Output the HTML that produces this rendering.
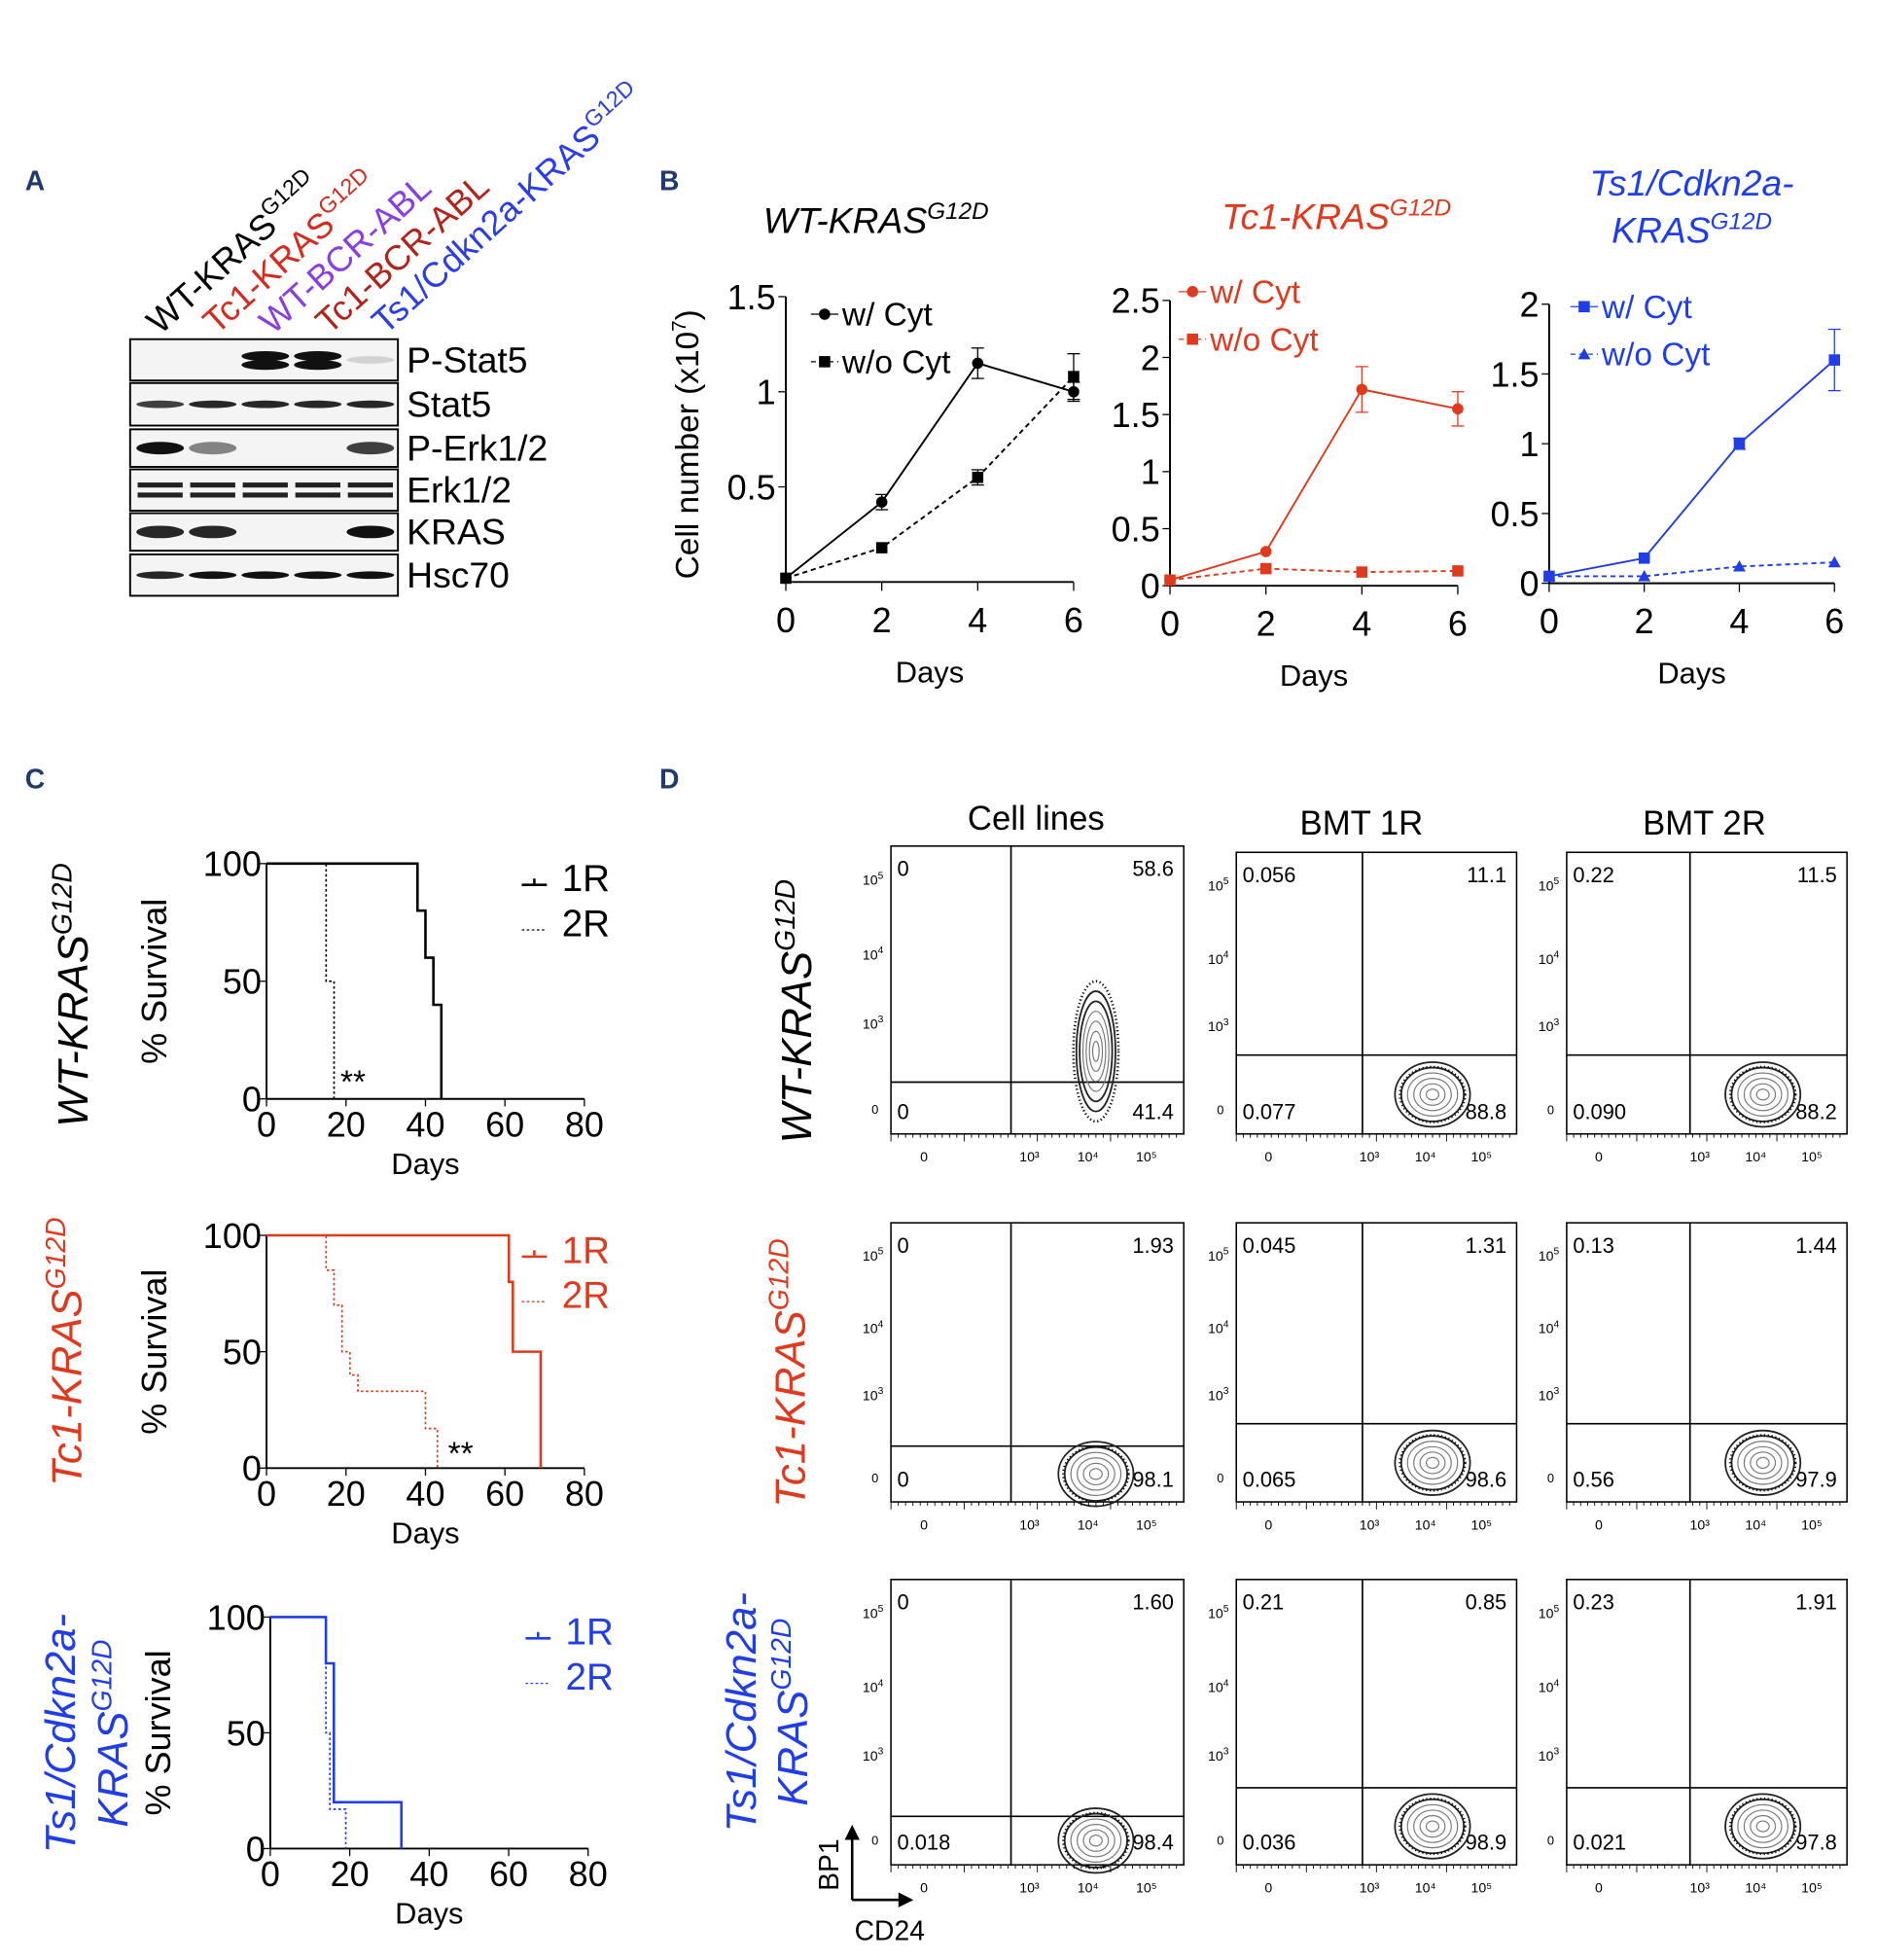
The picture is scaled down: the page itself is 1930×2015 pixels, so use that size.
<!DOCTYPE html>
<html><head><meta charset="utf-8">
<style>
html,body{margin:0;padding:0;background:#fff;}
svg{display:block;font-family:"Liberation Sans",sans-serif;}
</style></head>
<body>
<svg id="fig" width="1930" height="2015" viewBox="0 0 1500 1566" xmlns="http://www.w3.org/2000/svg">
<g id="root"></g>
</svg>
<script>
// ---------- DATA ----------
const bDays = [0,2,4,6];
const bWT_cyt = [0.02,0.42,1.15,1.0];
const bWT_nocyt = [0.02,0.18,0.55,1.08];
const bWT_err_cyt = [0,0.04,0.08,0.05];
const bWT_err_nocyt = [0,0,0.04,0.12];
const bTc1_cyt = [0.05,0.3,1.72,1.55];
const bTc1_nocyt = [0.05,0.15,0.12,0.13];
const bTc1_err_cyt = [0,0,0.2,0.15];
const bTs1_cyt = [0.05,0.18,1.0,1.6];
const bTs1_nocyt = [0.05,0.05,0.12,0.15];
const bTs1_err_cyt = [0,0,0.04,0.22];
const kmWT_1R = [[0,100],[38,100],[38,80],[40,80],[40,60],[42,60],[42,40],[44,40],[44,0]];
const kmWT_2R = [[0,100],[15,100],[15,50],[17,50],[17,0]];
const kmTc1_1R = [[0,100],[61,100],[61,80],[62,80],[62,50],[69,50],[69,0]];
const kmTc1_2R = [[0,100],[15,100],[15,85],[17,85],[17,70],[19,70],[19,50],[21,50],[21,40],[23,40],[23,33],[40,33],[40,17],[43,17],[43,0]];
const kmTs1_1R = [[0,100],[14,100],[14,80],[16,80],[16,20],[33,20],[33,0]];
const kmTs1_2R = [[0,100],[14,100],[14,50],[15,50],[15,17],[19,17],[19,0]];
const kmTicksX = [0,20,40,60,80];
const kmTicksY = [0,50,100];
const flowVals = [
 ["0","58.6","0","41.4"],["0.056","11.1","0.077","88.8"],["0.22","11.5","0.090","88.2"],
 ["0","1.93","0","98.1"],["0.045","1.31","0.065","98.6"],["0.13","1.44","0.56","97.9"],
 ["0","1.60","0.018","98.4"],["0.21","0.85","0.036","98.9"],["0.23","1.91","0.021","97.8"]];

const NS="http://www.w3.org/2000/svg";
const root=document.getElementById('root');
function el(tag,attrs,parent,text){const e=document.createElementNS(NS,tag);for(const k in attrs)e.setAttribute(k,attrs[k]);if(text!==undefined)e.textContent=text;(parent||root).appendChild(e);return e;}
function txt(x,y,s,size,fill,name,extra){const t=el('text',Object.assign({x:x,y:y,'font-size':size,fill:fill||'#000'},extra||{}),null,s);


return t;}

[['A',20,152],['B',527,152],['C',20,630],['D',527,630]].forEach(p=>{txt(p[1],p[2],p[0],22,'#1f3a6e','panel-label-'+p[0].toLowerCase(),{'font-weight':'bold'});});

// ---------- PANEL A ----------
const aLabels=[["WT-KRAS","G12D","#000"],["Tc1-KRAS","G12D","#d42b1e"],["WT-BCR-ABL","","#8a3ee0"],["Tc1-BCR-ABL","","#b2231a"],["Ts1/Cdkn2a-KRAS","G12D","#2a3ee8"]];
aLabels.forEach((l,i)=>{const x=128+i*45,y=268;
const t=el('text',{x:x,y:y,'font-size':28,fill:l[2],transform:`rotate(-42 ${x} ${y})`});


t.appendChild(document.createTextNode(l[0]));
if(l[1]){el('tspan',{'font-size':18,dy:-12},t,l[1]);}
});
const blotRows=[[271,304,"P-Stat5",[0,0,1,1,0.15]],[306,340,"Stat5",[0.8,0.9,0.9,0.9,0.9]],[343,373,"P-Erk1/2",[1,0.5,0,0,0.8]],[375,408,"Erk1/2",[1,1,1,1,1]],[410,440,"KRAS",[0.9,0.9,0,0,1]],[443,476,"Hsc70",[0.9,1,1,1,1]]];
blotRows.forEach((r,ri)=>{
const g=el('g',{});
el('rect',{x:104,y:r[0],width:214,height:r[1]-r[0],fill:'#f4f4f4',stroke:'#000','stroke-width':1.5},g);
const cy=(r[0]+r[1])/2;
r[3].forEach((v,i)=>{if(v>0){const cx=128+i*42;
if(r[2]==="Erk1/2"){el('rect',{x:cx-18,y:cy-6,width:36,height:4,fill:'#222',opacity:v},g);el('rect',{x:cx-18,y:cy+2,width:36,height:4,fill:'#222',opacity:v},g);}
else if(r[2]==="P-Stat5"&&v>0.5){el('ellipse',{cx:cx,cy:cy-3,rx:19,ry:4,fill:'#111'},g);el('ellipse',{cx:cx,cy:cy+4,rx:19,ry:4,fill:'#111'},g);}
else el('ellipse',{cx:cx,cy:cy,rx:19,ry:r[2]==="P-Erk1/2"||r[2]==="KRAS"?5:3,fill:'#111',opacity:v},g);}});
txt(325,cy+10,r[2],29,'#000','blot-label-'+ri);
});

// ---------- PANEL B ----------
function growth(x0,x1,y0,yPer,yMax,yTicks,title,color,cyt,nocyt,errC,errN,m2,name){
const sx=d=>x0+(d/6)*(x1-x0), sy=v=>y0-v*yPer;
const g=el('g',{});
el('line',{x1:x0,y1:y0,x2:x1,y2:y0,stroke:'#000','stroke-width':1.5},g);
el('line',{x1:x0,y1:y0,x2:x0,y2:sy(yMax),stroke:'#000','stroke-width':1.5},g);
bDays.forEach(d=>{el('line',{x1:sx(d),y1:y0,x2:sx(d),y2:y0+7,stroke:'#000'},g);el('text',{x:sx(d),y:y0+40,'font-size':28,'text-anchor':'middle'},g,d);});
yTicks.forEach(v=>{el('line',{x1:x0,y1:sy(v),x2:x0-6,y2:sy(v),stroke:'#000'},g);el('text',{x:x0-8,y:sy(v)+10,'font-size':28,'text-anchor':'end'},g,v);});
el('text',{x:(x0+x1)/2,y:y0+80,'font-size':24,'text-anchor':'middle'},g,'Days');
function series(vals,err,dash,marker,nm){
const pts=bDays.map((d,i)=>sx(d)+','+sy(vals[i])).join(' ');
const p=el('polyline',{points:pts,fill:'none',stroke:color,'stroke-width':1.5,'stroke-dasharray':dash},g);

bDays.forEach((d,i)=>{const x=sx(d),y=sy(vals[i]);
if(err[i]>0){el('line',{x1:x,y1:sy(vals[i]+err[i]),x2:x,y2:sy(vals[i]-err[i]),stroke:color},g);el('line',{x1:x-5,y1:sy(vals[i]+err[i]),x2:x+5,y2:sy(vals[i]+err[i]),stroke:color},g);el('line',{x1:x-5,y1:sy(vals[i]-err[i]),x2:x+5,y2:sy(vals[i]-err[i]),stroke:color},g);}
let m;if(marker==='c')m=el('circle',{cx:x,cy:y,r:4.5,fill:color},g);
else if(marker==='s')m=el('rect',{x:x-4.5,y:y-4.5,width:9,height:9,fill:color},g);
else m=el('polygon',{points:`${x},${y-5} ${x-5},${y+4} ${x+5},${y+4}`,fill:color},g);
});}
series(cyt,errC,'', color==='#1f3ee8'?'s':'c',name+'-wcyt');
series(nocyt,errN,'4,3',m2,name+'-wocyt');
return g;}
growth(628,858,465,152,1.5,[0.5,1,1.5],'','#000',bWT_cyt,bWT_nocyt,bWT_err_cyt,bWT_err_nocyt,'s','growth-wt');
growth(935,1165,468,91.2,2.5,[0,0.5,1,1.5,2,2.5],'','#e03a1e',bTc1_cyt,bTc1_nocyt,bTc1_err_cyt,[0,0,0,0],'s','growth-tc1');
growth(1238,1466,466,111.5,2,[0,0.5,1,1.5,2],'','#1f3ee8',bTs1_cyt,bTs1_nocyt,bTs1_err_cyt,[0,0,0,0],'t','growth-ts1');
function legend(x,y,color,m1,m2,l1,l2,nm){
[[y,m1,l1,''],[y+38,m2,l2,'4,3']].forEach((r,i)=>{el('line',{x1:x,y1:r[0],x2:x+22,y2:r[0],stroke:color,'stroke-dasharray':r[3]});
const cx=x+11;if(r[1]==='c')el('circle',{cx:cx,cy:r[0],r:4.5,fill:color});else if(r[1]==='s')el('rect',{x:cx-4.5,y:r[0]-4.5,width:9,height:9,fill:color});else el('polygon',{points:`${cx},${r[0]-5} ${cx-5},${r[0]+4} ${cx+5},${r[0]+4}`,fill:color});
txt(x+25,r[0]+9,r[2],26,color,nm+'-'+i);});}
legend(648,251,'#000','c','s','w/ Cyt','w/o Cyt','legend-wt');
legend(942,233,'#e03a1e','c','s','w/ Cyt','w/o Cyt','legend-tc1');
legend(1255,245,'#1f3ee8','s','t','w/ Cyt','w/o Cyt','legend-ts1');
function itTitle(x,y,a,sup,color,nm,size){const t=el('text',{x:x,y:y,'font-size':size||29,fill:color,'font-style':'italic','text-anchor':'middle'});t.appendChild(document.createTextNode(a));if(sup)el('tspan',{'font-size':(size||29)*0.65,dy:-11},t,sup);return t;}
itTitle(700,186,'WT-KRAS','G12D','#000','title-wt');
itTitle(1068,183,'Tc1-KRAS','G12D','#e03a1e','title-tc1');
itTitle(1352,156,'Ts1/Cdkn2a-','','#1f3ee8','title-ts1-a');
itTitle(1352,194,'KRAS','G12D','#1f3ee8','title-ts1-b');
{const t=el('text',{x:558,y:355,'font-size':26,'text-anchor':'middle',transform:'rotate(-90 558 355)'});t.appendChild(document.createTextNode('Cell number (x10'));el('tspan',{'font-size':16,dy:-10},t,'7');el('tspan',{dy:10},t,')');}

// ---------- PANEL C ----------
function km(x0,x1,yTop,yBot,color,a,b,nm,starX,starY){
const sx=d=>x0+d/80*(x1-x0), sy=v=>yBot-v/100*(yBot-yTop);
const g=el('g',{});
el('line',{x1:x0,y1:yBot,x2:x1,y2:yBot,stroke:'#000','stroke-width':1.5},g);
el('line',{x1:x0,y1:yBot,x2:x0,y2:yTop,stroke:'#000','stroke-width':1.5},g);
kmTicksX.forEach(d=>{el('line',{x1:sx(d),y1:yBot,x2:sx(d),y2:yBot+6,stroke:'#000'},g);el('text',{x:sx(d),y:yBot+30,'font-size':28,'text-anchor':'middle'},g,d);});
kmTicksY.forEach(v=>{el('line',{x1:x0,y1:sy(v),x2:x0-6,y2:sy(v),stroke:'#000'},g);el('text',{x:x0-4,y:sy(v)+10,'font-size':28,'text-anchor':'end'},g,v);});
el('text',{x:(x0+x1)/2,y:yBot+60,'font-size':24,'text-anchor':'middle'},g,'Days');
el('text',{x:x0-80,y:(yTop+yBot)/2,'font-size':28,'text-anchor':'middle',transform:`rotate(-90 ${x0-80} ${(yTop+yBot)/2})`},g,'% Survival');
const l1=el('polyline',{points:a.map(p=>sx(p[0])+','+sy(p[1])).join(' '),fill:'none',stroke:color,'stroke-width':2},g);

const l2=el('polyline',{points:b.map(p=>sx(p[0])+','+sy(p[1])).join(' '),fill:'none',stroke:color,'stroke-width':1.3,'stroke-dasharray':'2,2'},g);

el('text',{x:starX,y:starY,'font-size':26},g,'**');
el('line',{x1:x1-50,y1:yTop+17,x2:x1-30,y2:yTop+17,stroke:color,'stroke-width':2},g);
el('line',{x1:x1-40,y1:yTop+12,x2:x1-40,y2:yTop+17,stroke:color,'stroke-width':2},g);
el('line',{x1:x1-50,y1:yTop+53,x2:x1-30,y2:yTop+53,stroke:color,'stroke-dasharray':'2,2'},g);
el('text',{x:x1-18,y:yTop+22,'font-size':30,fill:color},g,'1R');
el('text',{x:x1-18,y:yTop+58,'font-size':30,fill:color},g,'2R');}
km(213,467,690,878,'#000',kmWT_1R,kmWT_2R,'km-wt',272,873);
km(213,467,987,1173,'#e03a1e',kmTc1_1R,kmTc1_2R,'km-tc1',358,1170);
km(216,470,1292,1477,'#1f3ee8',kmTs1_1R,kmTs1_2R,'km-ts1',0,-100);
function vlabel(x,y,lines,color,nm){const t=el('text',{x:x,y:y,'font-size':34,fill:color,'font-style':'italic','text-anchor':'middle',transform:`rotate(-90 ${x} ${y})`});t.appendChild(document.createTextNode(lines[0]));if(lines[1])el('tspan',{'font-size':22,dy:-13},t,lines[1]);}
vlabel(70,795,['WT-KRAS','G12D'],'#000','row-label-c-wt');
vlabel(65,1080,['Tc1-KRAS','G12D'],'#e03a1e','row-label-c-tc1');
vlabel(60,1385,['Ts1/Cdkn2a-',''],'#1f3ee8','row-label-c-ts1a');
vlabel(102,1385,['KRAS','G12D'],'#1f3ee8','row-label-c-ts1b');

// ---------- PANEL D ----------
const colX=[712,988,1252], colW=[234,224,224];
const rowY=[[676,906],[977,1200],[1262,1490]];
const rowY2=[[681,906],[977,1200],[1262,1490]];
const hLineFrac=[[0.82,0.72,0.72],[0.8,0.72,0.72],[0.83,0.73,0.73]];
const vLineFrac=[0.41,0.45,0.44];
txt(828,663,'Cell lines',27,'#000','col-title-cell-lines',{'text-anchor':'middle'});
txt(1088,667,'BMT 1R',27,'#000','col-title-bmt1r',{'text-anchor':'middle'});
txt(1362,667,'BMT 2R',27,'#000','col-title-bmt2r',{'text-anchor':'middle'});
for(let r=0;r<3;r++)for(let c=0;c<3;c++){
const x=colX[c],w=colW[c],y=(c===0?rowY:rowY2)[r][0],h=rowY[r][1]-y;
const g=el('g',{});
el('rect',{x:x,y:y,width:w,height:h,fill:'none',stroke:'#000','stroke-width':1.2},g);
const hy=y+h*hLineFrac[r][c], vx=x+w*vLineFrac[c];
el('line',{x1:x,y1:hy,x2:x+w,y2:hy,stroke:'#000','stroke-width':1.3},g);
el('line',{x1:vx,y1:y,x2:vx,y2:y+h,stroke:'#000','stroke-width':1.3},g);
const v=flowVals[r*3+c];
el('text',{x:x+5,y:y+24,'font-size':17},g,v[0]);
el('text',{x:x+w-8,y:y+24,'font-size':17,'text-anchor':'end'},g,v[1]);
el('text',{x:x+5,y:y+h-12,'font-size':17},g,v[2]);
el('text',{x:x+w-8,y:y+h-12,'font-size':17,'text-anchor':'end'},g,v[3]);
const tall=(r===0&&c===0);
const bx=x+w*0.7, by=tall?840:hy+(y+h-hy)*0.5;
for(let k=6;k>=1;k--){el('ellipse',{cx:bx,cy:by,rx:(tall?2.6:5)*k,ry:(tall?8:4.3)*k,fill:'none',stroke:k>4?'#222':'#777','stroke-width':k>4?1.4:0.9},g);}
el('ellipse',{cx:bx,cy:by,rx:tall?18:26,ry:tall?56:22,fill:'none',stroke:'#111','stroke-width':2,'stroke-dasharray':'1,2'},g);
[[0.1,'5'],[0.36,'4'],[0.6,'3']].forEach(t=>{const ty=y+h*t[0]+8;const tt=el('text',{x:x-6,y:ty,'font-size':11,'text-anchor':'end'},g,'10');el('tspan',{'font-size':8,dy:-5},tt,t[1]);});
el('text',{x:x-10,y:y+h*0.93,'font-size':10,'text-anchor':'end'},g,'0');
[[0.07,'0'],[0.43,'10³'],[0.63,'10⁴'],[0.83,'10⁵']].forEach(t=>{el('text',{x:x+w*t[0]+10,y:y+h+22,'font-size':11,'text-anchor':'middle'},g,t[1]);});
for(let k=0;k<40;k++){el('line',{x1:x+k*w/40,y1:y+h,x2:x+k*w/40,y2:y+h+(k%10===0?6:3),stroke:'#000','stroke-width':0.7},g);}
}
vlabel(648,808,['WT-KRAS','G12D'],'#000','row-label-d-wt');
vlabel(643,1097,['Tc1-KRAS','G12D'],'#e03a1e','row-label-d-tc1');
vlabel(604,1368,['Ts1/Cdkn2a-',''],'#1f3ee8','row-label-d-ts1a');
vlabel(645,1368,['KRAS','G12D'],'#1f3ee8','row-label-d-ts1b');
el('line',{x1:681,y1:1518,x2:681,y2:1466,stroke:'#000','stroke-width':2});
el('polygon',{points:'681,1458 675,1470 687,1470',fill:'#000'});
el('line',{x1:681,y1:1518,x2:720,y2:1518,stroke:'#000','stroke-width':2});
el('polygon',{points:'730,1518 718,1512 718,1524',fill:'#000'});
txt(670,1490,'BP1',22,'#000','x-axis-bp1',{transform:'rotate(-90 670 1490)','text-anchor':'middle'});
txt(711,1550,'CD24',22,'#000','x-axis-cd24',{'text-anchor':'middle'});
</script>
</body></html>
